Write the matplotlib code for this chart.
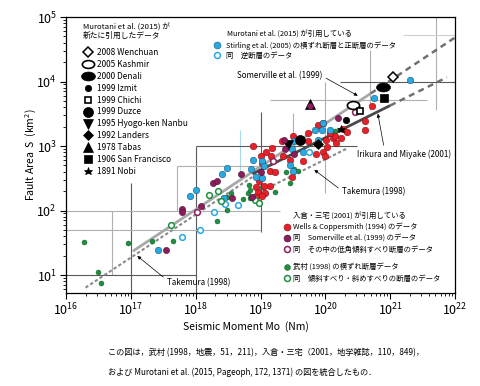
import numpy as np
import matplotlib
matplotlib.use("Agg")
import matplotlib.pyplot as plt
from matplotlib.lines import Line2D
from matplotlib.path import Path
from matplotlib.transforms import Affine2D
from matplotlib.ticker import NullFormatter, FixedLocator, LogLocator

JP = ['Noto Sans CJK JP', 'DejaVu Sans']
plt.rcParams['font.family'] = JP
plt.rcParams['mathtext.fontset'] = 'custom'
plt.rcParams['mathtext.rm'] = 'Noto Sans CJK JP'
plt.rcParams['mathtext.it'] = 'Noto Sans CJK JP'
plt.rcParams['mathtext.bf'] = 'Noto Sans CJK JP'
plt.rcParams['mathtext.default'] = 'rm'

# ------------------------------------------------------------------ data
# values are log10(Mo [Nm]) and log10(S [km^2])

# Stirling et al. (2005) strike-slip & normal faults (filled blue)
stirling_ss_logM = [17.42, 17.92, 18.00, 18.40, 18.43, 18.48, 18.85, 18.89, 18.93, 19.02,
                    19.03, 19.06, 19.45, 19.48, 19.50, 19.51, 19.65, 19.84, 19.89, 19.95,
                    19.97, 20.07, 20.49, 20.75, 21.31]
stirling_ss_logS = [1.39, 2.23, 2.32, 2.56, 2.19, 2.66, 2.65, 2.79, 2.52, 2.51,
                    2.77, 2.69, 2.71, 2.96, 2.62, 3.07, 2.91, 3.25, 3.09, 3.25,
                    3.36, 3.25, 3.59, 3.75, 4.03]
# Stirling et al. (2005) reverse faults (open blue)
stirling_rev_logM = [17.79, 18.07, 18.28, 18.45, 18.65, 19.75]
stirling_rev_logS = [1.59, 1.69, 1.98, 2.10, 2.08, 2.91]

# Wells & Coppersmith (1994) (filled red)
wc_logM = [18.93, 18.96, 19.06, 19.07, 18.93, 19.02, 19.15, 18.97, 18.89, 19.00,
           19.09, 19.16, 19.17, 19.33, 19.35, 19.46, 19.65, 19.15, 19.23, 19.48,
           19.50, 19.74, 19.89, 19.96, 19.74, 19.86, 19.97, 20.00, 20.02, 20.01,
           20.12, 20.15, 20.24, 20.17, 20.28, 20.33, 20.07, 20.61, 20.61, 20.72,
           19.02]
wc_logS = [2.37, 2.29, 2.38, 2.27, 2.21, 2.22, 2.38, 2.45, 3.00, 2.84,
           2.90, 2.84, 2.97, 3.08, 2.84, 2.78, 2.77, 2.61, 2.59, 2.52,
           3.16, 3.20, 3.33, 3.35, 3.07, 2.88, 2.90, 2.85, 2.99, 3.09,
           3.12, 3.16, 3.13, 3.05, 3.27, 3.22, 3.20, 3.39, 3.25, 3.62,
           2.74]

# Somerville et al. (1999) (filled purple) and low-angle dip-slip (open purple)
som_logM = [17.55, 17.79, 17.79, 18.08, 18.26, 18.33, 18.56, 18.70, 18.87, 19.00,
            19.36, 19.38, 19.51, 19.77, 20.19]
som_logS = [1.39, 2.03, 1.98, 2.07, 2.42, 2.46, 2.20, 2.57, 2.21, 2.60,
            3.09, 2.96, 2.88, 3.62, 3.44]
som_low_logM = [18.02, 19.19, 20.46]
som_low_logS = [1.98, 2.76, 3.53]

# Takemura (1998) strike-slip (filled green) and dip/oblique-slip (open green)
tak_ss_logM = [16.28, 16.49, 16.54, 16.96, 17.33, 17.65, 18.33, 18.48, 18.49, 18.54,
               18.73, 18.81, 18.83, 18.84, 18.84, 19.02, 19.23, 19.40, 19.45, 19.51,
               19.58, 20.15]
tak_ss_logS = [1.51, 1.04, 0.87, 1.49, 1.53, 1.53, 1.83, 2.01, 2.21, 2.27,
               2.18, 2.27, 2.40, 2.32, 2.19, 2.36, 2.29, 2.59, 2.43, 2.64,
               2.62, 3.23]
tak_dip_logM = [17.62, 18.20, 18.35, 18.39, 18.92, 18.97]
tak_dip_logS = [1.78, 2.24, 2.30, 2.14, 2.16, 2.12]

# Murotani et al. (2015) newly added events
event_names = ['2008 Wenchuan', '2005 Kashmir', '2000 Denali', '1999 Izmit', '1999 Chichi',
               '1999 Duzce', '1995 Hyogo-ken Nanbu', '1992 Landers', '1978 Tabas',
               '1906 San Francisco', '1891 Nobi']
event_logM = [21.04, 20.43, 20.89, 20.32, 20.54, 19.61, 19.43, 19.89, 19.77, 20.91, 20.24]
event_logS = [4.065, 3.64, 3.91, 3.40, 3.55, 3.09, 3.02, 3.03, 3.65, 3.74, 3.26]

# scaling relations (Mo in dyne-cm inside the formulas)
somerville_coef, somerville_exp = 2.23e-15, 2.0 / 3.0
irikura_coef, irikura_exp = 4.24e-11, 0.5
takemura_small_coef, takemura_small_exp = 10 ** -14.73, 2.0 / 3.0
takemura_large_coef, takemura_large_exp = 10 ** -10.706, 0.5

x_ticks = [1e16, 1e17, 1e18, 1e19, 1e20, 1e21, 1e22]
y_ticks = [1e1, 1e2, 1e3, 1e4, 1e5]

# ------------------------------------------------------------------ figure
W, H = 480, 386
fig = plt.figure(figsize=(W / 100, H / 100), dpi=100)
ax = fig.add_axes([66 / W, 1 - 293 / H, (455 - 66) / W, (293 - 17) / H])
ax.set_xscale('log')
ax.set_yscale('log')
ax.set_xlim(1e16, 1e22)
ax.set_ylim(10 ** 0.721, 1e5)
ax.xaxis.set_major_locator(FixedLocator(x_ticks))
ax.yaxis.set_major_locator(FixedLocator(y_ticks))
ax.xaxis.set_minor_locator(LogLocator(base=10, subs=np.arange(2, 10)))
ax.yaxis.set_minor_locator(LogLocator(base=10, subs=np.arange(2, 10)))

for s in ax.spines.values():
    s.set_linewidth(0.9)
ax.tick_params(which='major', direction='out', length=4, width=0.8, labelsize=9, pad=2.5)
ax.tick_params(which='minor', direction='out', length=2.2, width=0.6)
ax.xaxis.set_minor_formatter(NullFormatter())
ax.yaxis.set_minor_formatter(NullFormatter())

# overlay frame lines left over from merged source figures
frame_v_logM = [17.0, 16.71, 18.0, 17.71, 18.69, 19.0, 19.5, 20.0, 20.69, 21.71]
frame_v_lo = [0.72, 1.0, 0.72, 2.0, 2.5, 1.67, 2.9, 2.27, 3.56, 3.56]
frame_v_hi = [2.43, 2.0, 3.0, 2.69, 3.25, 3.53, 3.51, 4.0, 4.49, 5.0]
frame_v_tone = ['dark', 'gray', 'dark', 'gray', 'blue', 'dark', 'gray', 'gray', 'gray', 'gray']
frame_h_logS = [1.0, 1.70, 2.0, 2.69, 3.0, 3.71, 4.0, 4.72]
frame_h_lo = [16.0, 16.0, 16.0, 17.71, 18.0, 19.15, 20.23, 21.2]
frame_h_hi = [18.0, 19.0, 19.3, 19.15, 20.49, 21.57, 22.0, 22.0]
frame_h_tone = ['dark', 'gray', 'gray', 'gray', 'dark', 'gray', 'dark', 'light']
tones = {'dark': '#5a5a5a', 'gray': '#b0b0b0', 'light': '#cfcfcf', 'blue': '#a8d8ea'}
for x, lo, hi, t in zip(frame_v_logM, frame_v_lo, frame_v_hi, frame_v_tone):
    ax.vlines(10 ** x, 10 ** lo, 10 ** hi, colors=tones[t], lw=0.8, zorder=1)
for y, lo, hi, t in zip(frame_h_logS, frame_h_lo, frame_h_hi, frame_h_tone):
    ax.hlines(10 ** y, 10 ** lo, 10 ** hi, colors=tones[t], lw=0.8, zorder=1)


def relation(coef, exp, m_lo, m_hi):
    m = np.logspace(np.log10(m_lo), np.log10(m_hi), 50)
    return m, coef * (m * 1e7) ** exp


m, s = relation(takemura_small_coef, takemura_small_exp, 2e16, 7.5e18)
ax.plot(m, s, color='#8a8a8a', lw=1.5, dashes=(1.6, 1.1), zorder=2)
m, s = relation(takemura_large_coef, takemura_large_exp, 7.5e18, 2.2e20)
ax.plot(m, s, color='#8a8a8a', lw=1.5, dashes=(1.6, 1.1), zorder=2)
m, s = relation(somerville_coef, somerville_exp, 1.07e17, 5e20)
ax.plot(m, s, color='#a8a8a8', lw=2.0, zorder=2.1, solid_capstyle='butt')
m, s = relation(somerville_coef, somerville_exp, 5e20, 1e22)
ax.plot(m, s, color='#707070', lw=1.8, dashes=(2.4, 1.8), zorder=2.1)
m, s = relation(irikura_coef, irikura_exp, 7.5e18, 1e21)
ax.plot(m, s, color='#4a4a4a', lw=2.0, zorder=2.2, solid_capstyle='butt')
m, s = relation(irikura_coef, irikura_exp, 1e21, 7.5e21)
ax.plot(m, s, color='#707070', lw=1.8, dashes=(2.4, 1.8), zorder=2.2)

BLUE, RED, PURPLE, GREEN = '#29a9e1', '#e8202a', '#8c1d5c', '#1f8f3f'


def pw(v):
    return 10 ** np.asarray(v)


ax.scatter(pw(tak_ss_logM), pw(tak_ss_logS), s=13, c=GREEN, edgecolors='#0f5a25', linewidths=0.3, zorder=3.1)
ax.scatter(pw(wc_logM), pw(wc_logS), s=22, c=RED, edgecolors='#8a1015', linewidths=0.4, zorder=3.2)
ax.scatter(pw(stirling_ss_logM), pw(stirling_ss_logS), s=22, c=BLUE, edgecolors='#1a5a80', linewidths=0.4, zorder=3.3)
ax.scatter(pw(stirling_rev_logM), pw(stirling_rev_logS), s=17, facecolors='white', edgecolors=BLUE, linewidths=1.1, zorder=3.4)
ax.scatter(pw(tak_dip_logM), pw(tak_dip_logS), s=17, facecolors='white', edgecolors=GREEN, linewidths=1.1, zorder=3.4)
ax.scatter(pw(som_low_logM), pw(som_low_logS), s=17, facecolors='white', edgecolors=PURPLE, linewidths=1.1, zorder=3.4)

ellipse = Path.unit_circle().transformed(Affine2D().scale(1.0, 0.64))
event_style = {
    '2008 Wenchuan': dict(marker='D', ms=4.8, mfc='white', mec='k', mew=1.1),
    '2005 Kashmir': dict(marker=ellipse, ms=8.8, mfc='white', mec='k', mew=1.2),
    '2000 Denali': dict(marker=ellipse, ms=10, mfc='k', mec='k', mew=0.5),
    '1999 Izmit': dict(marker='o', ms=4.6, mfc='k', mec='k', mew=0.5),
    '1999 Chichi': dict(marker='s', ms=5.0, mfc='white', mec='k', mew=1.2),
    '1999 Duzce': dict(marker='o', ms=7.2, mfc='k', mec='k', mew=0.5),
    '1995 Hyogo-ken Nanbu': dict(marker='v', ms=6.5, mfc='k', mec='k', mew=0.5),
    '1992 Landers': dict(marker='D', ms=5.0, mfc='k', mec='k', mew=0.5),
    '1978 Tabas': dict(marker='^', ms=6.5, mfc='k', mec='k', mew=0.5),
    '1906 San Francisco': dict(marker='s', ms=5.8, mfc='k', mec='k', mew=0.5),
    '1891 Nobi': dict(marker='*', ms=6.2, mfc='k', mec='k', mew=0.5),
}
for name, lm, ls in zip(event_names, event_logM, event_logS):
    ax.plot([10 ** lm], [10 ** ls], linestyle='none', zorder=5, **event_style[name])

ax.scatter(pw(som_logM), pw(som_logS), s=20, c=PURPLE, edgecolors='#4d0f32', linewidths=0.4, zorder=6)

# ------------------------------------------------------------------ labels
ax.set_xlabel('Seismic Moment Mo  (Nm)', fontsize=7.5)
ax.xaxis.label.set_va('center')
ax.xaxis.set_label_coords((246 - 66) / 389, -(327 - 293) / 276)
ax.set_ylabel('Fault Area  S  (km$^{2}$)', fontsize=7.5)
ax.yaxis.label.set_va('center')
ax.yaxis.label.set_ha('center')
ax.yaxis.label.set_rotation_mode('anchor')
ax.yaxis.set_label_coords((31 - 66) / 389, 0.5)

arrow = dict(arrowstyle='-|>', color='k', lw=0.5, mutation_scale=5, shrinkA=1, shrinkB=0)
ax.annotate('Somerville et al. (1999)', xy=(10 ** 20.5, 10 ** 3.78), xytext=(10 ** 19.95, 10 ** 4.085),
            fontsize=5.8, ha='right', va='center', arrowprops=dict(arrow, relpos=(1, 0.5)))
ax.annotate('Irikura and Miyake (2001)', xy=(10 ** 20.81, 10 ** 3.50), xytext=(10 ** 20.49, 10 ** 2.876),
            fontsize=5.8, ha='left', va='center', arrowprops=dict(arrow, relpos=(0.29, 1.0)))
ax.annotate('Takemura (1998)', xy=(10 ** 19.83, 10 ** 2.63), xytext=(10 ** 20.26, 10 ** 2.29),
            fontsize=5.8, ha='left', va='center', arrowprops=dict(arrow, relpos=(0, 0.6)))
ax.annotate('Takemura (1998)', xy=(10 ** 17.10, 10 ** 1.295), xytext=(10 ** 17.56, 10 ** 0.876),
            fontsize=5.8, ha='left', va='center', arrowprops=dict(arrow, relpos=(0, 0.8)))

# ------------------------------------------------------------------ keys


def key(handle, label, x_px, y_px, fs, hl, htp):
    leg = fig.legend([handle], [label], loc='center left',
                     bbox_to_anchor=(x_px / W, 1 - y_px / H), bbox_transform=fig.transFigure,
                     frameon=False, fontsize=fs, handlelength=hl, handletextpad=htp,
                     borderpad=0, borderaxespad=0, numpoints=1)
    return leg


# key 1: Murotani et al. (2015) new events
fig.text(83 / W, 1 - 27 / H, 'Murotani et al. (2015) が', fontsize=5.6, va='center', ha='left')
fig.text(83 / W, 1 - 36 / H, '新たに引用したデータ', fontsize=5.6, va='center', ha='left')
for i, name in enumerate(event_names):
    st = dict(event_style[name])
    h = Line2D([], [], linestyle='none', **st)
    key(h, name, 82.5, 52.3 + 11.94 * i, 6.0, 1.3, 0.45)

# key 2: Stirling data
fig.text(227 / W, 1 - 35 / H, 'Murotani et al. (2015) が引用している', fontsize=5.3, va='center', ha='left')
key(Line2D([], [], linestyle='none', marker='o', ms=5, mfc=BLUE, mec='#1a5a80', mew=0.4),
    'Stirling et al. (2005) の横ずれ断層と正断層のデータ', 212.4, 45.5, 5.3, 1.3, 0.6)
key(Line2D([], [], linestyle='none', marker='o', ms=4.3, mfc='white', mec=BLUE, mew=1.1),
    '同　逆断層のデータ', 212.4, 56, 5.3, 1.3, 0.6)

# key 3: Irikura & Miyake / Takemura data
fig.text(293 / W, 1 - 216.5 / H, '入倉・三宅 (2001) が引用している', fontsize=5.3, va='center', ha='left')
key3 = [
    (Line2D([], [], linestyle='none', marker='o', ms=5, mfc=RED, mec='#8a1015', mew=0.4),
     'Wells & Coppersmith (1994) のデータ', 227),
    (Line2D([], [], linestyle='none', marker='o', ms=5, mfc=PURPLE, mec='#4d0f32', mew=0.4),
     '同　Somerville et al. (1999) のデータ', 238.5),
    (Line2D([], [], linestyle='none', marker='o', ms=4.3, mfc='white', mec=PURPLE, mew=1.1),
     '同　その中の低角傾斜すべり断層のデータ', 250),
    (Line2D([], [], linestyle='none', marker='o', ms=4.3, mfc=GREEN, mec='#0f5a25', mew=0.3),
     '武村 (1998) の横ずれ断層データ', 267.5),
    (Line2D([], [], linestyle='none', marker='o', ms=4.3, mfc='white', mec=GREEN, mew=1.1),
     '同　傾斜すべり・斜めすべりの断層のデータ', 278.5),
]
for h, lab, y in key3:
    key(h, lab, 283.2, y, 5.3, 1.0, 0.35)

# caption
fig.text(108 / W, 1 - 353 / H,
         'この図は，武村 (1998，地震，51，211)，入倉・三宅（2001，地学雑誌，110，849)，',
         fontsize=5.9, va='center', ha='left')
fig.text(108 / W, 1 - 372 / H,
         'および Murotani et al. (2015, Pageoph, 172, 1371) の図を統合したもの．',
         fontsize=5.9, va='center', ha='left')

fig.savefig('out.png', dpi=100)
